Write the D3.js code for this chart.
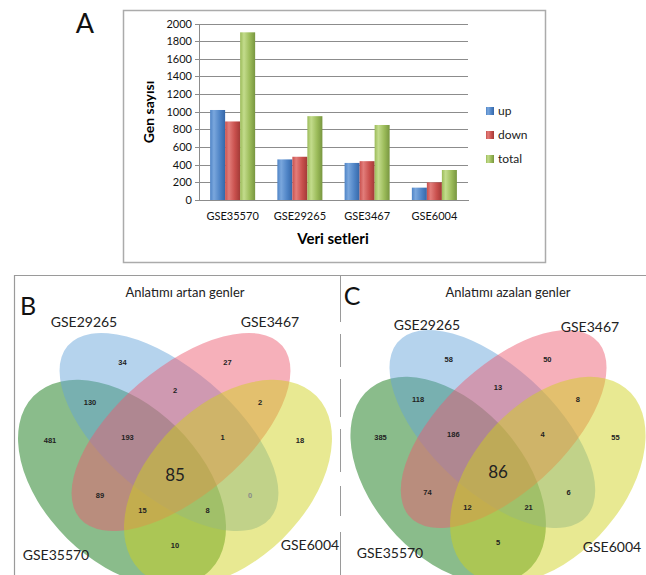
<!DOCTYPE html>
<html>
<head>
<meta charset="utf-8">
<script src="https://cdn.jsdelivr.net/npm/d3@7"></script>
<style>
  body { margin: 0; background: #fff; }
</style>
</head>
<body>
<svg id="fig" width="646" height="575"></svg>
<script>
// ---- data ----
const datasets = ['GSE35570', 'GSE29265', 'GSE3467', 'GSE6004'];
const seriesNames = ['up', 'down', 'total'];
const upCounts = [1020, 460, 420, 140];
const downCounts = [890, 490, 440, 200];
const totalCounts = [1900, 950, 850, 340];
const yTicks = [0, 200, 400, 600, 800, 1000, 1200, 1400, 1600, 1800, 2000];

// venn sets in ellipse order: blue, pink, green, yellow
const vennSets = ['GSE29265', 'GSE3467', 'GSE35570', 'GSE6004'];
// region key = membership flags in the same order as vennSets
const regionKeys = ['1000', '0100', '0010', '0001', '1100', '1010', '1001', '0110',
                    '0101', '0011', '1110', '1101', '1011', '0111', '1111'];
const upRegionCounts = [34, 27, 481, 18, 2, 130, 0, 89, 2, 10, 193, 1, 8, 15, 85];
const downRegionCounts = [58, 50, 385, 55, 13, 118, 6, 74, 8, 5, 186, 4, 21, 12, 86];

const FONT = 'Lato, "Open Sans", sans-serif';
const SMALL_FONT = '"Liberation Sans", Arial, sans-serif';

const COLORS = {
    up: ['#7aa7dd', '#4f84c6', '#3567a8'],
    down: ['#e27d7a', '#c9504d', '#a23a37'],
    total: ['#c3dc8c', '#9bbb59', '#789640'],
    grid: '#8c8c8c',
    frame: '#ababab'
};

const svg = d3.select('#fig');
const defs = svg.append('defs');

seriesNames.forEach(name => {
    const grad = defs.append('linearGradient').attr('id', 'grad_' + name)
        .attr('x1', 0).attr('x2', 1).attr('y1', 0).attr('y2', 0);
    grad.append('stop').attr('offset', '0%').attr('stop-color', COLORS[name][1]);
    grad.append('stop').attr('offset', '25%').attr('stop-color', COLORS[name][0]);
    grad.append('stop').attr('offset', '65%').attr('stop-color', COLORS[name][1]);
    grad.append('stop').attr('offset', '100%').attr('stop-color', COLORS[name][2]);
});

// ---- panel A: bar chart ----
svg.append('rect')
    .attr('x', 123.5).attr('y', 10.5).attr('width', 422).attr('height', 252)
    .attr('fill', '#fff').attr('stroke', COLORS.frame).attr('stroke-width', 1.5);

svg.append('text').attr('x', 85).attr('y', 33).attr('text-anchor', 'middle')
    .attr('font-family', FONT).attr('font-size', 27).attr('fill', '#111').text('A');

const x0 = d3.scaleBand().domain(datasets).range([199, 468]);
const x1 = d3.scaleBand().domain(seriesNames).range([0, x0.bandwidth()]).paddingOuter(0.74);
const y = d3.scaleLinear().domain([0, 2000]).range([200, 23.5]);

svg.append('g')
    .attr('transform', 'translate(199,0)')
    .call(d3.axisLeft(y).tickValues(yTicks).tickSize(-269).tickFormat(''))
    .call(g => g.select('.domain').remove())
    .call(g => g.selectAll('line').attr('stroke', COLORS.grid).attr('shape-rendering', 'crispEdges'));

const yAxis = svg.append('g')
    .attr('transform', 'translate(199,0)')
    .call(d3.axisLeft(y).tickValues(yTicks).tickFormat(d3.format('d'))
        .tickSize(4).tickSizeOuter(0).tickPadding(3));
yAxis.select('.domain').attr('stroke', COLORS.grid).attr('shape-rendering', 'crispEdges');
yAxis.selectAll('line').attr('stroke', COLORS.grid).attr('shape-rendering', 'crispEdges');
yAxis.selectAll('text').attr('font-family', FONT).attr('font-size', 11).attr('fill', '#111');

const seriesValues = { up: upCounts, down: downCounts, total: totalCounts };

const groups = svg.append('g').selectAll('g')
    .data(datasets)
    .join('g')
    .attr('transform', d => 'translate(' + x0(d) + ',0)');

groups.selectAll('rect')
    .data((d, i) => seriesNames.map(name => ({ name: name, value: seriesValues[name][i] })))
    .join('rect')
    .attr('x', d => x1(d.name))
    .attr('y', d => y(d.value))
    .attr('width', x1.bandwidth())
    .attr('height', d => y(0) - y(d.value))
    .attr('fill', d => 'url(#grad_' + d.name + ')');

const xAxis = svg.append('g')
    .attr('transform', 'translate(0,200)')
    .call(d3.axisBottom(x0).tickSize(0).tickSizeOuter(0).tickPadding(12));
xAxis.select('.domain').attr('stroke', COLORS.grid).attr('shape-rendering', 'crispEdges');
xAxis.selectAll('text').attr('font-family', FONT).attr('font-size', 11).attr('fill', '#111');

svg.append('text')
    .attr('transform', 'translate(154,112) rotate(-90)')
    .attr('text-anchor', 'middle')
    .attr('font-family', FONT).attr('font-size', 14).attr('font-weight', 'bold')
    .text('Gen sayısı');

svg.append('text')
    .attr('x', 333).attr('y', 244).attr('text-anchor', 'middle')
    .attr('font-family', FONT).attr('font-size', 15).attr('font-weight', 'bold')
    .text('Veri setleri');

const legend = svg.append('g').selectAll('g')
    .data(seriesNames)
    .join('g')
    .attr('transform', (d, i) => 'translate(486,' + (111 + i * 24) + ')');
legend.append('rect')
    .attr('x', 0).attr('y', -4).attr('width', 8).attr('height', 8)
    .attr('fill', d => 'url(#grad_' + d + ')');
legend.append('text')
    .attr('x', 12).attr('dy', '0.35em')
    .attr('font-family', FONT).attr('font-size', 12).attr('fill', '#222')
    .text(d => d);

// ---- panels B and C: venn frames ----
svg.append('path')
    .attr('d', 'M14.5,575 V275.5 H646')
    .attr('fill', 'none').attr('stroke', '#9a9a9a').attr('stroke-width', 1.2);
svg.append('line')
    .attr('x1', 340.5).attr('x2', 340.5).attr('y1', 276).attr('y2', 575)
    .attr('stroke', '#9a9a9a').attr('stroke-width', 1)
    .attr('stroke-dasharray', '46 12 33 12 38 12 43 14 30 16');

// ellipse geometry in local units around the panel centre
const ELLIPSES = [
    { color: '#64a3d9', x: -6, y: -38, a: 133, b: 64, rot: 40.4 },
    { color: '#ec5a6e', x: 6, y: -38, a: 133, b: 64, rot: -40.4 },
    { color: '#0a720c', x: -53, y: 13, a: 124, b: 78, rot: 44.5 },
    { color: '#cfd21c', x: 53, y: 13, a: 124, b: 78, rot: -44.5 }
];
const DRAW_ORDER = [2, 0, 1, 3];

function insideFlags (px, py) {
    return ELLIPSES.map(e => {
        const t = -e.rot * Math.PI / 180;
        const dx = px - e.x, dy = py - e.y;
        const u = dx * Math.cos(t) - dy * Math.sin(t);
        const v = dx * Math.sin(t) + dy * Math.cos(t);
        return (u * u) / (e.a * e.a) + (v * v) / (e.b * e.b) <= 1 ? '1' : '0';
    }).join('');
}

// label anchor = grid point deepest inside each region
function regionAnchors (bottomLimit) {
    const boundary = [];
    ELLIPSES.forEach(e => {
        const r = e.rot * Math.PI / 180;
        for (let k = 0; k < 200; k++) {
            const s = 2 * Math.PI * k / 200;
            const u = e.a * Math.cos(s), v = e.b * Math.sin(s);
            boundary.push([e.x + u * Math.cos(r) - v * Math.sin(r), e.y + u * Math.sin(r) + v * Math.cos(r)]);
        }
    });
    const best = {};
    for (let px = -175; px <= 175; px += 2.5) {
        for (let py = -150; py <= bottomLimit; py += 2.5) {
            const key = insideFlags(px, py);
            if (key === '0000') continue;
            let d2 = Infinity;
            for (const b of boundary) {
                const dd = (b[0] - px) * (b[0] - px) + (b[1] - py) * (b[1] - py);
                if (dd < d2) d2 = dd;
            }
            let depth = Math.min(Math.sqrt(d2), bottomLimit - py);
            if (!best[key] || depth > best[key].depth) best[key] = { x: px, y: py, depth: depth };
        }
    }
    return best;
}

function drawVenn (props) {
    const { cx, cy, sx, sy, counts, title, letter, letterPos, setLabels } = props;
    const g = svg.append('g');
    const local = g.append('g').attr('transform', 'translate(' + cx + ',' + cy + ') scale(' + sx + ',' + sy + ')');

    local.selectAll('ellipse')
        .data(DRAW_ORDER.map(i => ELLIPSES[i]))
        .join('ellipse')
        .attr('transform', e => 'translate(' + e.x + ',' + e.y + ') rotate(' + e.rot + ')')
        .attr('rx', e => e.a).attr('ry', e => e.b)
        .attr('fill', e => e.color).attr('fill-opacity', 0.48);

    const anchors = regionAnchors((573 - cy) / sy);
    const regions = regionKeys.map((key, i) => ({ key: key, count: counts[i], pos: anchors[key] }));

    g.selectAll('text.region')
        .data(regions)
        .join('text')
        .attr('class', 'region')
        .attr('x', d => cx + d.pos.x * sx)
        .attr('y', d => cy + d.pos.y * sy)
        .attr('dy', '0.35em')
        .attr('text-anchor', 'middle')
        .attr('font-family', d => d.key === '1111' ? FONT : SMALL_FONT)
        .attr('font-size', d => d.key === '1111' ? 17 : 7.5)
        .attr('font-weight', d => d.key === '1111' ? 'normal' : 'bold')
        .attr('fill', d => d.count === 0 ? '#8a8a8a' : '#222')
        .text(d => d.count);

    g.append('text')
        .attr('x', cx + 10).attr('y', 297).attr('text-anchor', 'middle')
        .attr('font-family', FONT).attr('font-size', 13).attr('fill', '#222')
        .text(title);

    g.append('text')
        .attr('x', letterPos[0]).attr('y', letterPos[1]).attr('text-anchor', 'middle')
        .attr('font-family', FONT).attr('font-size', 25).attr('fill', '#111')
        .text(letter);

    g.selectAll('text.setLabel')
        .data(vennSets)
        .join('text')
        .attr('class', 'setLabel')
        .attr('x', (d, i) => cx + setLabels[i][0])
        .attr('y', (d, i) => setLabels[i][1])
        .attr('text-anchor', 'middle')
        .attr('font-family', FONT).attr('font-size', 14).attr('fill', '#222')
        .text(d => d);
}

drawVenn({
    cx: 175, cy: 470, sx: 1, sy: 1,
    counts: upRegionCounts,
    title: 'Anlatımı artan genler',
    letter: 'B', letterPos: [28, 315],
    setLabels: [[-91, 327], [95, 327], [-119, 560], [135, 550]]
});

drawVenn({
    cx: 498, cy: 467, sx: 0.94, sy: 1,
    counts: downRegionCounts,
    title: 'Anlatımı azalan genler',
    letter: 'C', letterPos: [352, 305],
    setLabels: [[-71, 330], [92, 332], [-108, 558], [114, 552]]
});
</script>
</body>
</html>
